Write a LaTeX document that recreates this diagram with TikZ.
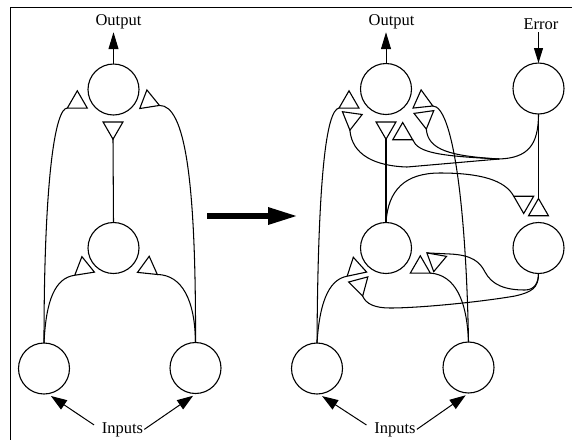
\documentclass[tikz,border=0pt]{standalone}
\usepackage{fontspec}
\setmainfont{Liberation Serif}
\usetikzlibrary{shapes.geometric,arrows.meta}
\begin{document}
\begin{tikzpicture}[x=1pt,y=-1pt,
  unit/.style={draw,circle,minimum size=51pt,inner sep=0pt,outer sep=0pt,line width=1.1pt},
  syn/.style={draw,regular polygon,regular polygon sides=3,minimum size=23pt,inner sep=0pt,outer sep=0pt,line width=1.1pt,shape border rotate=#1},
  syn/.default=0,
  wire/.style={line width=1.05pt},
  lbl/.style={font=\fontsize{16.5}{18}\selectfont,inner sep=1pt,anchor=base},
  inarrow/.style={line width=1pt,-{Triangle[length=16pt,width=11pt]}},
  outarrow/.style={line width=1pt,-{Triangle[length=17pt,width=10pt]}},
  errarrow/.style={line width=1pt,-{Triangle[length=15pt,width=9pt]}},
  bigarrow/.style={line width=6pt,-{Triangle[length=30pt,width=16pt]}},
  ]
\useasboundingbox (0,0) rectangle (572,440);
% frame (top and left edges)
\draw[line width=1pt] (572,7) -- (10,7) -- (10,440);

% ---------------- left network ----------------
\node[unit] (L-out) at (113.5,89.5) {};
\node[unit] (L-hid) at (113.5,248) {};
\node[unit] (L-in1) at (44,368.5) {};
\node[unit] (L-in2) at (195.5,368) {};

\node[syn] (L-t1) at (77.3,102.3) {};
\node[syn=9] (L-t2) at (148.7,101.3) {};
\node[syn=180] (L-t3) at (113,127.7) {};
\node[syn=9] (L-t4) at (83.7,268) {};
\node[syn=-6] (L-t5) at (148,267.7) {};

\node[lbl] (L-outtxt) at (118.5,25) {Output};
\node[lbl] (L-intxt) at (122.5,433) {Inputs};

\draw[wire] (L-in1.north) .. controls (44,180) and (55,108) .. (L-t1.corner 2);
\draw[wire] (L-in2.north) .. controls (196,180) and (185,105) .. (L-t2.corner 3);
\draw[wire] (L-t3.corner 1) -- (L-hid.north);
\draw[wire] (L-in1.north) .. controls (46,300) and (55,278) .. (L-t4.corner 2);
\draw[wire] (L-in2.north) .. controls (195,300) and (182,275) .. (L-t5.corner 3);

\draw[outarrow,shorten >=2.5pt] (L-out.north) -- (L-out.north |- L-outtxt.south);
\draw[inarrow,shorten <=8pt,shorten >=4pt] (L-intxt.west) -- (L-in1.-82);
\draw[inarrow,shorten >=4pt] (L-intxt.east) -- (L-in2.-88);

% ---------------- big arrow ----------------
\coordinate (ba-s) at (207,216);
\coordinate (ba-e) at (298,216);
\draw[bigarrow] (ba-s) -- (ba-e);

% ---------------- right network ----------------
\node[unit] (R-out) at (386,89) {};
\node[unit] (R-err) at (538.5,88.5) {};
\node[unit] (R-hid) at (386,248) {};
\node[unit] (R-hid2) at (538.5,248) {};
\node[unit] (R-in1) at (317,368.5) {};
\node[unit] (R-in2) at (468.5,367.5) {};

\node[syn] (R-t1) at (349,102.3) {};
\node[syn=172] (R-t2) at (351.5,118.8) {};
\node[syn=180] (R-t3) at (386,127.7) {};
\node[syn] (R-t4) at (402.7,134) {};
\node[syn=6] (R-t5) at (422.3,101.3) {};
\node[syn=188] (R-t6) at (424.7,117.7) {};
\node[syn=180] (R-t7) at (523.7,202) {};
\node[syn] (R-t8) at (538.5,210) {};
\node[syn=12] (R-t9) at (355.7,268.5) {};
\node[syn=195] (R-t10) at (359.7,285) {};
\node[syn] (R-t11) at (420.3,267.3) {};
\node[syn=170] (R-t12) at (435.7,260.3) {};

\node[lbl] (R-outtxt) at (391.5,25) {Output};
\node[lbl] (R-errtxt) at (541,29) {Error};
\node[lbl] (R-intxt) at (395,433) {Inputs};

% inputs to output unit
\draw[wire] (R-in1.north) .. controls (318,180) and (326,110) .. (R-t1.corner 2);
\draw[wire] (R-in2.north) .. controls (466,200) and (452,106) .. (R-t5.corner 3);
% hidden to output
\draw[wire] (R-t3.corner 1) -- (R-hid.north);
% error unit fan-out
\coordinate (J) at (499,159);
\draw[wire] (R-err.south) .. controls (538.5,145) and (528,158) .. (J);
\draw[wire] (R-t2.corner 1) .. controls (352,155) and (375,166) .. (407,167) -- (J);
\draw[wire] (R-t4.corner 3) .. controls (418,153) and (440,156) .. (J);
\draw[wire] (R-t6.corner 1) .. controls (428,150) and (450,156) .. (J);
\draw[wire] (R-err.south) -- (R-t8.corner 1);
% hidden to second hidden unit
\draw[wire] (R-hid.north) .. controls (388,190) and (405,173) .. (440,173)
  .. controls (480,173) and (505,180) .. (R-t7.corner 3);
% inputs to hidden unit
\draw[wire] (R-in1.north) .. controls (320,295) and (332,279) .. (R-t9.corner 2);
\draw[wire] (R-in2.north) .. controls (467,300) and (455,275) .. (R-t11.corner 3);
% second hidden unit back to hidden unit
\draw[wire] (R-hid2.south) .. controls (538.5,288) and (532,292) .. (515,296)
  .. controls (480,302) and (420,308) .. (390,308)
  .. controls (375,308) and (366,304) .. (R-t10.corner 1);
\draw[wire] (R-t12.corner 3) -- (450,254) .. controls (472,255) and (480,262) .. (485,272)
  .. controls (492,285) and (505,290) .. (525,290)
  .. controls (535,290) and (538.5,282) .. (R-hid2.south);

\draw[outarrow,shorten >=2.5pt] (R-out.north) -- (R-out.north |- R-outtxt.south);
\draw[errarrow,shorten <=2pt] (R-err.north |- R-errtxt.south) -- (R-err.north);
\draw[inarrow,shorten <=8pt,shorten >=4pt] (R-intxt.west) -- (R-in1.-86);
\draw[inarrow,shorten >=4pt] (R-intxt.east) -- (R-in2.-89);
\end{tikzpicture}
\end{document}
